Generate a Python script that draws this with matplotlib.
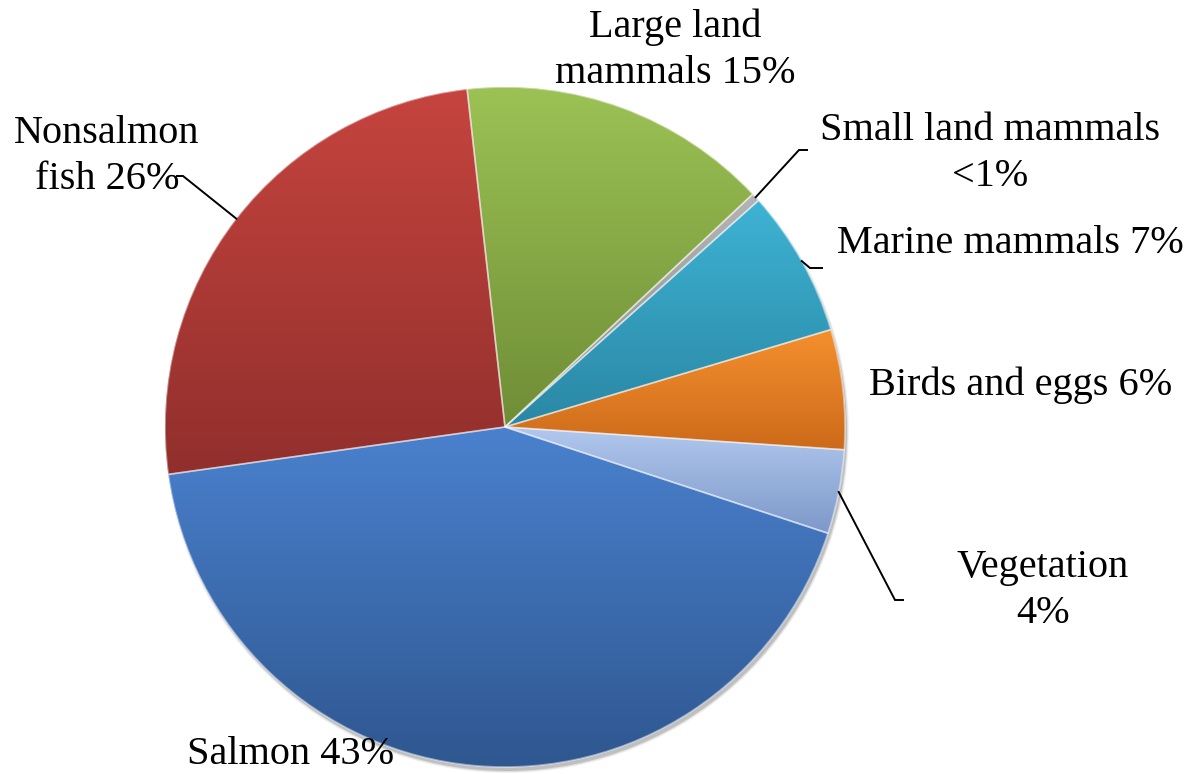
"""Pie chart of subsistence harvest by resource category."""

import numpy as np
import matplotlib
matplotlib.use('Agg')
import matplotlib.pyplot as plt
from matplotlib.colors import LinearSegmentedColormap
from matplotlib.patches import Circle

# data, clockwise from the top
categories = ['Large land mammals', 'Small land mammals', 'Marine mammals',
              'Birds and eggs', 'Vegetation', 'Salmon', 'Nonsalmon fish']
shares = [14.8, 0.4, 7.0, 5.7, 4.0, 42.8, 25.5]
labels = ['Large land\nmammals 15%', 'Small land mammals\n<1%',
          'Marine mammals 7%', 'Birds and eggs 6%', 'Vegetation\n4%',
          'Salmon 43%', 'Nonsalmon\nfish 26%']

# gradient colours (top, bottom) for each slice
tops = ['#9CC255', '#B4B4B4', '#3EB3D4', '#F5902E', '#B2C8EE', '#4A81CE', '#C6443F']
bottoms = ['#6F8D36', '#8C8C8C', '#2A87A4', '#CC6A1A', '#7D99C9', '#2F5790', '#912F2C']

W, H = 1189, 774
FONT = 'Liberation Serif'

# label placement in picture pixels (x centre, first baseline from top)
label_pos = [(675, 37), (990, 140), (1010, 253), (1021, 395),
             (1043, 577), (291, 764), (107, 143)]
LINE_STEP = 46
# leader lines: elbow and end points (picture pixels), None = no leader
leaders = [None, ((799, 150), (807, 150)), ((810, 268), (822, 268)), None,
           ((895, 600), (903, 600)), None, ((183, 176), (177, 176))]

fig = plt.figure(figsize=(W / 100, H / 100), dpi=100)
ax = fig.add_axes([0, 0, 1, 1])

cx, cy, R = 505, H - 427, 340

# soft shadow under the pie, towards the lower right
for k, a in [(2, 0.05), (1, 0.08), (0, 0.14)]:
    ax.add_patch(Circle((cx + 2, cy - 4), R + k, color='black', alpha=a, lw=0, zorder=0))

wedges, _ = ax.pie(shares, startangle=96.4, counterclock=False, radius=R,
                   center=(cx, cy), colors=tops, wedgeprops=dict(lw=0))

for wedge, top, bot in zip(wedges, tops, bottoms):
    ext = wedge.get_path().get_extents()
    grad = np.linspace(1, 0, 256).reshape(-1, 1)
    cmap = LinearSegmentedColormap.from_list('g', [bot, top])
    im = ax.imshow(grad, extent=[ext.x0, ext.x1, ext.y0, ext.y1], origin='upper',
                   cmap=cmap, aspect='auto', zorder=2, interpolation='bilinear')
    im.set_clip_path(wedge)

# light separators between slices
ax.pie(shares, startangle=96.4, counterclock=False, radius=R, center=(cx, cy),
       wedgeprops=dict(facecolor='none', edgecolor=(1, 1, 1, 0.45), lw=1.2, zorder=3))

for i, wedge in enumerate(wedges):
    x, y0 = label_pos[i]
    for j, line in enumerate(labels[i].split('\n')):
        ax.text(x, H - (y0 + j * LINE_STEP), line, ha='center', va='baseline',
                fontsize=29, family=FONT, color='black', zorder=5)
    if leaders[i] is not None:
        mid = np.deg2rad((wedge.theta1 + wedge.theta2) / 2)
        sx, sy = cx + R * np.cos(mid), cy + R * np.sin(mid)
        (ex, ey), (fx, fy) = leaders[i]
        ax.plot([sx, ex, fx], [sy, H - ey, H - fy], color='black', lw=1.4, zorder=4,
                solid_joinstyle='miter')

ax.set_xlim(0, W)
ax.set_ylim(0, H)
ax.set_aspect('equal')
ax.axis('off')

fig.savefig('out.png', dpi=100, facecolor='white')
